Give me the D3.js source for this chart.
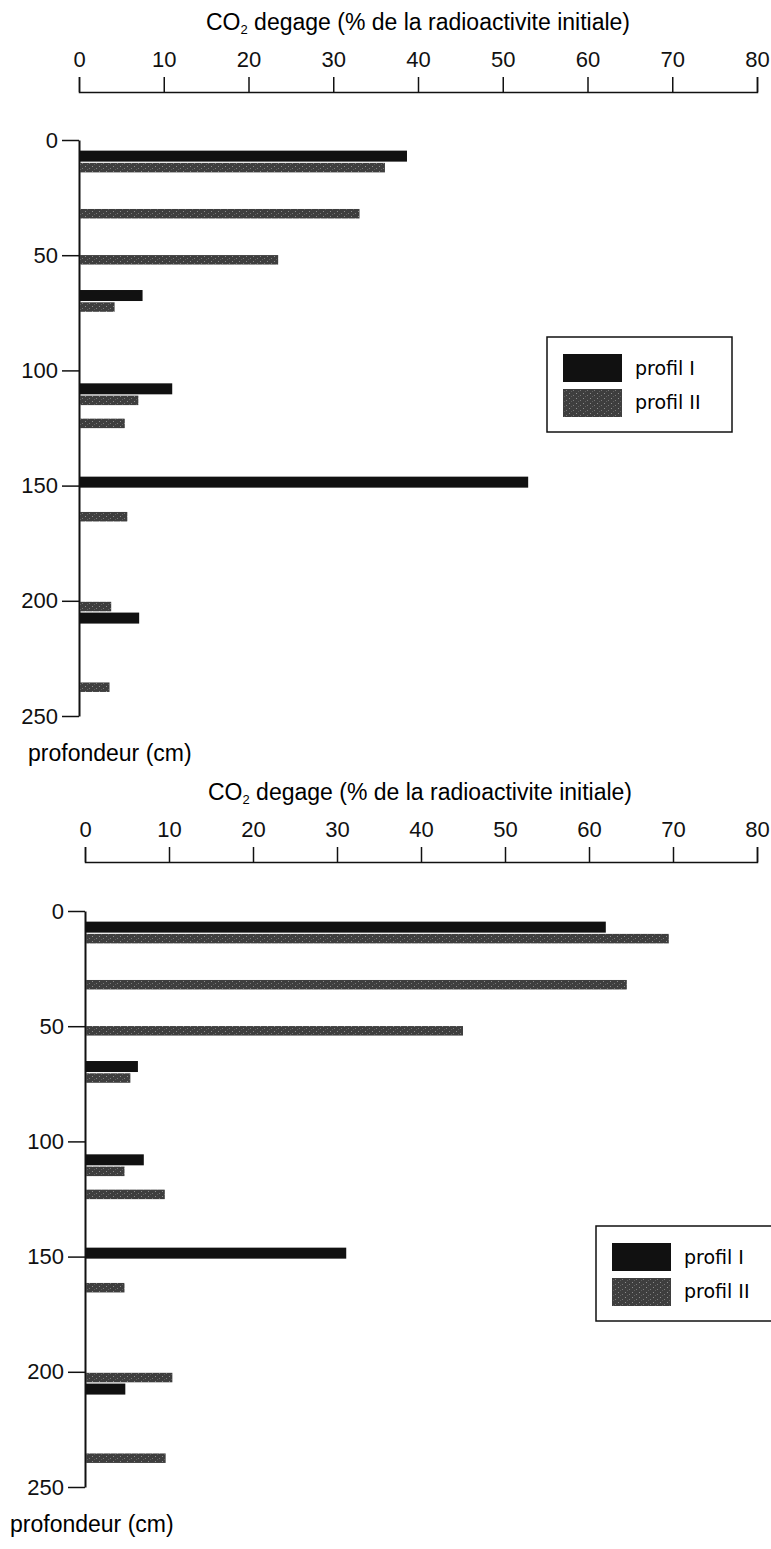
<!DOCTYPE html>
<html>
<head>
<meta charset="utf-8">
<script src="https://cdn.jsdelivr.net/npm/d3@7"></script>
<style>
  body { margin: 0; background: #fff; }
  svg { display: block; font-family: "Liberation Sans", Arial, sans-serif; }
</style>
</head>
<body>
<div class="chartDiv"></div>
<script>
// values
const xTicks = [0, 10, 20, 30, 40, 50, 60, 70, 80];
const yTicks = [0, 50, 100, 150, 200, 250];
const seriesNames = ['profil I', 'profil II'];

const profil1Depth = [7, 67.5, 108, 148.5, 207.5];
const profil2Depth = [12, 32, 52, 72.5, 113, 123, 163.5, 202.5, 237.5];

const chart1Profil1 = [38.7, 7.5, 11.0, 53.0, 7.1];
const chart1Profil2 = [36.1, 33.1, 23.5, 4.2, 7.0, 5.4, 5.7, 3.8, 3.6];

const chart2Profil1 = [62.0, 6.3, 7.0, 31.1, 4.8];
const chart2Profil2 = [69.5, 64.5, 45.0, 5.4, 4.7, 9.5, 4.7, 10.4, 9.6];

const svgWidth = 771;
const svgHeight = 1549;

const svg = d3.select('.chartDiv')
    .append('svg')
    .attr('width', svgWidth)
    .attr('height', svgHeight);

// speckled grey fill for profil II
const defs = svg.append('defs');
const pat = defs.append('pattern')
    .attr('id', 'greyFill')
    .attr('patternUnits', 'userSpaceOnUse')
    .attr('width', 7)
    .attr('height', 5);
pat.append('rect').attr('width', 7).attr('height', 5).attr('fill', '#3e3e3e');
pat.append('rect').attr('x', 1).attr('y', 1).attr('width', 1).attr('height', 1).attr('fill', '#8c8c8c');
pat.append('rect').attr('x', 5).attr('y', 3).attr('width', 1).attr('height', 1).attr('fill', '#7a7a7a');
pat.append('rect').attr('x', 3).attr('y', 4).attr('width', 1).attr('height', 1).attr('fill', '#5e5e5e');

const blackColor = '#111';
const blackBarH = 11;
const greyBarH = 9.5;

function drawPanel(opt){

    const g = svg.append('g');

    const x = d3.scaleLinear().domain([0, 80]).range([opt.x0, opt.x1]);
    const y = d3.scaleLinear().domain([0, 250]).range([opt.y0, opt.y1]);

    // title
    const title = g.append('text')
        .attr('x', opt.titleX)
        .attr('y', opt.axisY - 62)
        .attr('text-anchor', 'middle')
        .style('font-size', '23px');
    title.append('tspan').text('CO');
    title.append('tspan').attr('font-size', '13px').attr('dy', 4).text('2');
    title.append('tspan').attr('dy', -4).text(' degage (% de la radioactivite initiale)');

    // top axis
    const xAxis = g.append('g')
        .attr('transform', 'translate(0,' + opt.axisY + ')')
        .call(d3.axisTop(x).tickValues(xTicks).tickSize(15).tickSizeOuter(15).tickPadding(10));
    xAxis.selectAll('path, line').attr('stroke', '#111').attr('stroke-width', 1.5);
    xAxis.selectAll('text').style('font-size', '22px').attr('fill', '#111');

    // left axis
    const yAxis = g.append('g')
        .attr('transform', 'translate(' + opt.x0 + ',0)')
        .call(d3.axisLeft(y).tickValues(yTicks).tickSize(17).tickSizeOuter(0).tickPadding(4));
    yAxis.select('path').attr('stroke', '#111').attr('stroke-width', 2);
    yAxis.selectAll('line').attr('stroke', '#111').attr('stroke-width', 1.5);
    yAxis.selectAll('text').style('font-size', '22px').attr('fill', '#111');

    g.append('text')
        .attr('x', opt.labelX)
        .attr('y', opt.y1 + 45)
        .style('font-size', '23px')
        .text('profondeur (cm)');

    // bars
    g.selectAll('rect.p2')
        .data(profil2Depth.map((d, i) => ({depth: d, value: opt.values2[i]})))
        .enter()
        .append('rect')
        .attr('class', 'p2')
        .attr('x', x(0) + 1)
        .attr('y', d => y(d.depth) - greyBarH / 2)
        .attr('width', d => x(d.value) - x(0) - 1)
        .attr('height', greyBarH)
        .attr('fill', 'url(#greyFill)');

    g.selectAll('rect.p1')
        .data(profil1Depth.map((d, i) => ({depth: d, value: opt.values1[i]})))
        .enter()
        .append('rect')
        .attr('class', 'p1')
        .attr('x', x(0) + 1)
        .attr('y', d => y(d.depth) - blackBarH / 2)
        .attr('width', d => x(d.value) - x(0) - 1)
        .attr('height', blackBarH)
        .attr('fill', blackColor);

    // legend
    const lg = g.append('g').attr('transform', 'translate(' + opt.legX + ',' + opt.legY + ')');
    lg.append('rect')
        .attr('width', opt.legW)
        .attr('height', 95)
        .attr('fill', 'none')
        .attr('stroke', '#111')
        .attr('stroke-width', 1.5);
    const swatchFill = [blackColor, 'url(#greyFill)'];
    seriesNames.forEach((name, i) => {
        lg.append('rect')
            .attr('x', 16)
            .attr('y', 17 + i * 35)
            .attr('width', 59)
            .attr('height', 28)
            .attr('fill', swatchFill[i]);
        lg.append('text')
            .attr('x', 88)
            .attr('y', 31 + i * 34)
            .attr('dy', '0.35em')
            .style('font-family', '"DejaVu Sans", sans-serif')
            .style('font-size', '19px')
            .text(name);
    });
}

drawPanel({x0: 79, x1: 757, y0: 140, y1: 716, axisY: 92, titleX: 418, labelX: 28,
    values1: chart1Profil1, values2: chart1Profil2, legX: 547, legY: 337, legW: 185});

drawPanel({x0: 85, x1: 757, y0: 911, y1: 1487, axisY: 862, titleX: 420, labelX: 10,
    values1: chart2Profil1, values2: chart2Profil2, legX: 596, legY: 1226, legW: 200});
</script>
</body>
</html>
